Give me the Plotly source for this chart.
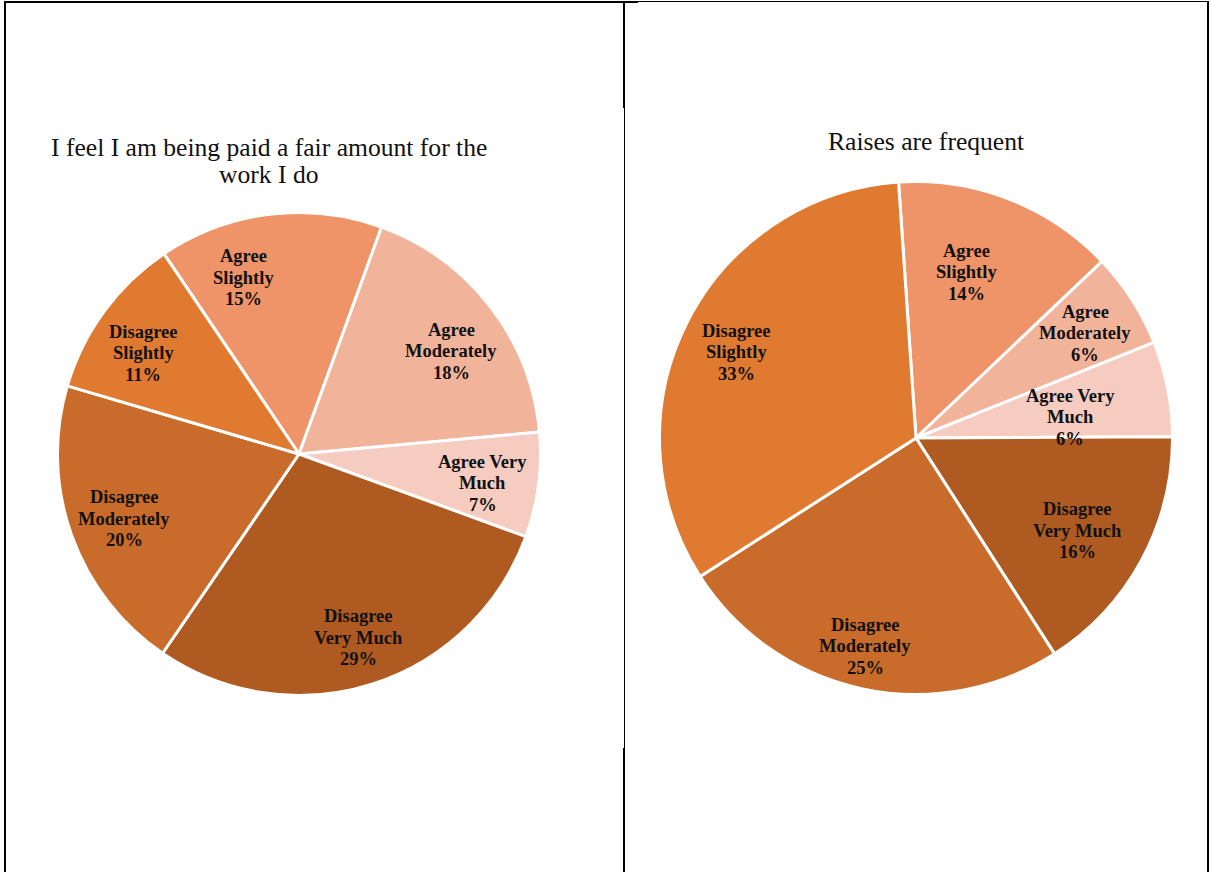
import math
import plotly.graph_objects as go

# ---- data -------------------------------------------------------------
CATEGORIES = ["Agree Slightly", "Agree Moderately", "Agree Very Much",
              "Disagree Very Much", "Disagree Moderately", "Disagree Slightly"]
LABEL_LINES = [["Agree", "Slightly"], ["Agree", "Moderately"], ["Agree Very", "Much"],
               ["Disagree", "Very Much"], ["Disagree", "Moderately"], ["Disagree", "Slightly"]]
PAY_VALUES = [15, 18, 7, 29, 20, 11]
RAISE_VALUES = [14, 6, 6, 16, 25, 33]
PAY_TITLE = ["I feel I am being paid a fair amount for the", "work I do"]
RAISE_TITLE = ["Raises are frequent"]

# ---- styling ----------------------------------------------------------
COLORS = ["#EF9368", "#F2B39B", "#F5CCBF", "#AE5A21", "#C96B2A", "#E07A30"]
W, H = 1211, 872
SERIF = "Liberation Serif, Times New Roman, serif"
TEXT_COLOR = "#111111"

# pie geometry (pixels): centre, radius, rotation of first slice
PIES = [
    dict(values=PAY_VALUES, cx=299, cy=454, r=240, rot=-34,
         title=PAY_TITLE, title_xy=(269, 161),
         label_r=[0.77, 0.765, 0.776, 0.805, 0.776, 0.774],
         label_da=[-10.6, 3.5, 1.6, 0.0, -0.8, -3.3]),
    dict(values=RAISE_VALUES, cx=916, cy=438, r=255, rot=-3.9,
         title=RAISE_TITLE, title_xy=(926, 142),
         label_r=[0.68, 0.78, 0.61, 0.73, 0.84, 0.78],
         label_da=[-4.2, 0.9, 3.4, 1.3, 1.4, -1.1]),
]

fig = go.Figure()


def add_text_block(lines, px, py, size, bold, spacing):
    n = len(lines)
    for i, line in enumerate(lines):
        y = py + (i - (n - 1) / 2) * spacing
        fig.add_annotation(
            x=px / W, y=1 - y / H, xref="paper", yref="paper",
            text=line, showarrow=False, xanchor="center", yanchor="middle",
            font=dict(family=SERIF, size=size, color=TEXT_COLOR,
                      weight="bold" if bold else "normal"),
        )


for p in PIES:
    rr = p["r"] + 1.5  # outer white stroke eats half its width
    fig.add_trace(go.Pie(
        labels=CATEGORIES, values=p["values"], sort=False,
        direction="clockwise", rotation=p["rot"],
        marker=dict(colors=COLORS, line=dict(color="white", width=3)),
        textinfo="none", showlegend=False,
        domain=dict(x=[(p["cx"] - rr) / W, (p["cx"] + rr) / W],
                    y=[1 - (p["cy"] + rr) / H, 1 - (p["cy"] - rr) / H]),
    ))

    total = sum(p["values"])
    cum = 0
    for k, v in enumerate(p["values"]):
        mid = p["rot"] + 360 * (cum + v / 2) / total + p["label_da"][k]
        cum += v
        a = math.radians(mid)
        rad = p["label_r"][k] * p["r"]
        lx = p["cx"] + rad * math.sin(a)
        ly = p["cy"] - rad * math.cos(a)
        add_text_block(LABEL_LINES[k] + [f"{v}%"], lx, ly, 18.5, True, 21.5)

    tx, ty = p["title_xy"]
    add_text_block(p["title"], tx, ty, 25.6, False, 27.5)

# table-like frame around the two charts
BORDERS = [
    (4, 2, 638, 2, 2), (638, 1.5, 1209, 1.5, 1),
    (5, 1, 5, 872, 2), (1208, 1, 1208, 872, 2),
    (624, 1, 624, 108, 2), (624.5, 108, 624.5, 748, 1), (624, 748, 624, 872, 2),
]
for x0, y0, x1, y1, w in BORDERS:
    fig.add_shape(type="line", xref="paper", yref="paper",
                  x0=x0 / W, y0=1 - y0 / H, x1=x1 / W, y1=1 - y1 / H,
                  line=dict(color="black", width=w))

fig.update_layout(
    width=W, height=H, autosize=False,
    margin=dict(l=0, r=0, t=0, b=0),
    paper_bgcolor="white", plot_bgcolor="white",
)

fig.write_html("out.html")
